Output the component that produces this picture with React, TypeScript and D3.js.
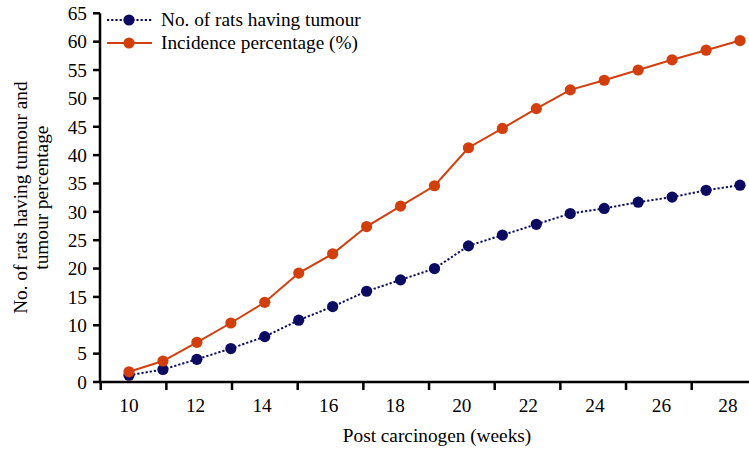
import React from "react";
import * as d3 from "d3";

const weeks = [10, 11, 12, 13, 14, 15, 16, 17, 18, 19, 20, 21, 22, 23, 24, 25, 26, 27, 28];
const ratsWithTumour = [1.2, 2.2, 4.0, 5.9, 8.0, 10.9, 13.3, 16.0, 18.0, 20.0, 24.0, 25.9, 27.8, 29.7, 30.6, 31.7, 32.6, 33.8, 34.7];
const incidencePct = [1.8, 3.7, 7.0, 10.4, 14.05, 19.2, 22.6, 27.4, 31.0, 34.6, 41.3, 44.7, 48.2, 51.5, 53.2, 55.0, 56.8, 58.5, 60.2];
const yTicks = [0, 5, 10, 15, 20, 25, 30, 35, 40, 45, 50, 55, 60, 65];
const xLabels = [10, 12, 14, 16, 18, 20, 22, 24, 26, 28];
const xTickMarks = [9, 11, 13, 15, 17, 19, 21, 23, 25, 27];

const BLUE = "#0b0b62";
const ORANGE = "#d23f0c";
const FONT = "Liberation Serif, Times New Roman, serif";

export default function App() {
  const width = 749;
  const height = 449;
  // points, labels and tick marks sit on slightly different grids in the original
  const x = d3.scaleLinear().domain([10, 28]).range([129, 740]);
  const xLabel = d3.scaleLinear().domain([10, 28]).range([129, 728]);
  const xTick = d3.scaleLinear().domain([9, 27]).range([100.7, 691.7]);
  const y = d3.scaleLinear().domain([0, 65]).range([382, 13.3]);

  const line = d3
    .line<number>()
    .x((_, i) => x(weeks[i]))
    .y((d) => y(d));

  const series = [
    { name: "No. of rats having tumour", values: ratsWithTumour, color: BLUE, dash: "2.2,2" },
    { name: "Incidence percentage (%)", values: incidencePct, color: ORANGE, dash: null },
  ];

  const txt = { fontFamily: FONT, fontSize: 19.3 };
  const midY = (y(0) + y(65)) / 2;

  return (
    <svg
      width={width}
      height={height}
      style={{ position: "absolute", left: 0, top: 0, background: "#fff" }}
    >
      {/* lines + markers */}
      {series.map((s) => (
        <g key={s.name}>
          <path
            d={line(s.values) || ""}
            fill="none"
            stroke={s.color}
            strokeWidth={2}
            strokeDasharray={s.dash || undefined}
          />
          {s.values.map((v, i) => (
            <circle key={i} cx={x(weeks[i])} cy={y(v)} r={5.6} fill={s.color} />
          ))}
        </g>
      ))}

      {/* y axis */}
      <line x1={100} x2={100} y1={y(65)} y2={y(0)} stroke="#000" strokeWidth={2.5} />
      {yTicks.map((t) => (
        <g key={t}>
          <line x1={93} x2={100} y1={y(t)} y2={y(t)} stroke="#000" strokeWidth={2.5} />
          <text x={87} y={y(t)} dy="0.35em" textAnchor="end" style={txt}>
            {t}
          </text>
        </g>
      ))}

      {/* x axis */}
      <line x1={99} x2={749} y1={y(0)} y2={y(0)} stroke="#000" strokeWidth={2.5} />
      {xTickMarks.map((t) => (
        <line key={t} x1={xTick(t)} x2={xTick(t)} y1={y(0)} y2={y(0) + 8} stroke="#000" strokeWidth={2.5} />
      ))}
      {xLabels.map((t) => (
        <text key={t} x={xLabel(t)} y={412} textAnchor="middle" style={txt}>
          {t}
        </text>
      ))}

      <text x={437} y={442} textAnchor="middle" style={txt}>
        Post carcinogen (weeks)
      </text>

      <text transform={`translate(27,${midY}) rotate(-90)`} textAnchor="middle" style={txt}>
        No. of rats having tumour and
      </text>
      <text transform={`translate(48,${midY}) rotate(-90)`} textAnchor="middle" style={txt}>
        tumour percentage
      </text>

      {/* legend */}
      {series.map((s, i) => (
        <g key={s.name} transform={`translate(0,${20 + i * 23})`}>
          <line
            x1={107}
            x2={152}
            y1={0}
            y2={0}
            stroke={s.color}
            strokeWidth={2}
            strokeDasharray={s.dash || undefined}
          />
          <circle cx={129} cy={0} r={5.6} fill={s.color} />
          <text x={161} y={0} dy="0.32em" style={txt}>
            {s.name}
          </text>
        </g>
      ))}
    </svg>
  );
}
